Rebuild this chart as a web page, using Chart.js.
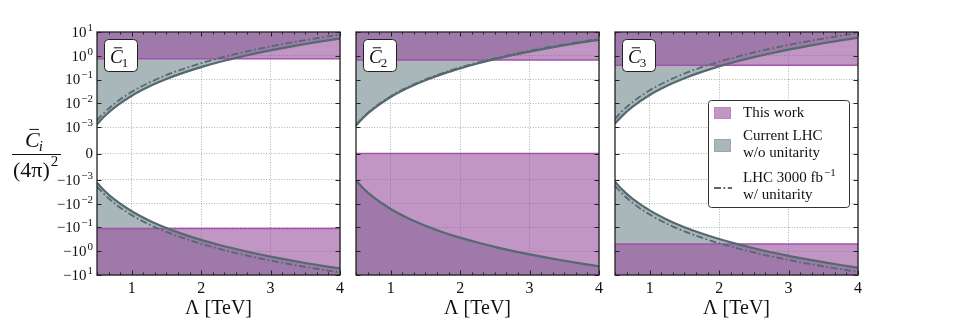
<!DOCTYPE html>
<html>
<head>
<meta charset="utf-8">
<script src="https://cdn.jsdelivr.net/npm/chart.js@4.4.0/dist/chart.umd.min.js"></script>
<style>
  html, body { margin: 0; padding: 0; background: #fff; }
  #wrap { position: relative; width: 955px; height: 324px; overflow: hidden; }
  .panel { position: absolute; top: 0; height: 324px; }
</style>
</head>
<body>
<div id="wrap">
  <div class="panel" style="left:0;width:350px"><canvas id="c1" width="350" height="324"></canvas></div>
  <div class="panel" style="left:346px;width:263px"><canvas id="c2" width="263" height="324"></canvas></div>
  <div class="panel" style="left:605px;width:263px"><canvas id="c3" width="263" height="324"></canvas></div>
</div>
<script>
// Lambda [TeV] sample points
const lambda = [0.5, 0.6, 0.75, 1, 1.25, 1.5, 1.75, 2, 2.25, 2.5, 2.75, 3, 3.25, 3.5, 3.75, 4];

const xTicks = [1, 2, 3, 4];
const yTicks = [10, 1, 0.1, 0.01, 0.001, 0, -0.001, -0.01, -0.1, -1, -10];
// tick label = base with exponent as superscript
const yTickBase = ['10', '10', '10', '10', '10', '0', '−10', '−10', '−10', '−10', '−10'];
const yTickExp  = ['1', '0', '−1', '−2', '−3', '', '−3', '−2', '−1', '0', '1'];

// Current LHC w/o unitarity (solid) and LHC 3000 fb-1 w/ unitarity (dash-dot)
const c1UpperSolid = [0.0013, 0.0027, 0.0066, 0.0208, 0.0508, 0.105, 0.195, 0.333, 0.533, 0.81, 1.19, 1.68, 2.32, 3.12, 4.11, 5.3];
const c1UpperDash  = [0.0019, 0.0039, 0.0096, 0.0304, 0.0742, 0.154, 0.285, 0.486, 0.779, 1.19, 1.74, 2.46, 3.39, 4.56, 6.01, 7.8];
const c1LowerSolid = [-0.0013, -0.0027, -0.0066, -0.0208, -0.0508, -0.105, -0.195, -0.333, -0.533, -0.81, -1.19, -1.68, -2.32, -3.12, -4.11, -5.3];
const c1LowerDash  = [-0.0019, -0.0039, -0.0096, -0.0304, -0.0742, -0.154, -0.285, -0.486, -0.779, -1.19, -1.74, -2.46, -3.39, -4.56, -6.01, -7.8];

const c2UpperSolid = [0.00115, 0.0024, 0.0058, 0.0184, 0.0449, 0.0932, 0.173, 0.294, 0.472, 0.719, 1.05, 1.49, 2.05, 2.76, 3.64, 4.71];
const c2UpperDash  = [0.00125, 0.0026, 0.0063, 0.02, 0.0488, 0.101, 0.188, 0.32, 0.513, 0.781, 1.14, 1.62, 2.23, 3.0, 3.96, 5.12];
const c2LowerSolid = [-0.00105, -0.0022, -0.0053, -0.0168, -0.041, -0.085, -0.158, -0.269, -0.431, -0.656, -0.961, -1.36, -1.87, -2.52, -3.32, -4.3];

const c3UpperSolid = [0.0014, 0.0029, 0.0071, 0.0224, 0.0547, 0.113, 0.21, 0.358, 0.574, 0.875, 1.28, 1.81, 2.5, 3.36, 4.43, 5.73];
const c3UpperDash  = [0.0022, 0.0046, 0.0111, 0.0352, 0.0859, 0.178, 0.33, 0.563, 0.902, 1.38, 2.01, 2.85, 3.93, 5.28, 6.96, 9.01];
const c3LowerSolid = [-0.0012, -0.0025, -0.0061, -0.0192, -0.0469, -0.0972, -0.18, -0.307, -0.492, -0.75, -1.1, -1.56, -2.14, -2.88, -3.8, -4.92];
const c3LowerDash  = [-0.0018, -0.0037, -0.0091, -0.0288, -0.0703, -0.146, -0.27, -0.461, -0.738, -1.13, -1.65, -2.33, -3.21, -4.32, -5.7, -7.37];

// "This work" bounds per panel (C1, C2, C3)
const thisWorkUpper = [0.75, 0.66, 0.40];
const thisWorkLower = [-0.11, 0, -0.50];

const panelSubs = ['1', '2', '3'];
const legendLabels = [['This work'], ['Current LHC', 'w/o unitarity'], ['LHC 3000 fb', 'w/ unitarity']];

const SERIF = '"Liberation Serif", "DejaVu Serif", serif';
const INK = '#222';
const GRAY_FILL = '#a9b7bb';
const PURPLE_FILL = 'rgba(152, 80, 157, 0.6)';
const PURPLE_LINE = '#a552aa';
const CURVE = '#55696f';
const GRID = 'rgba(125, 145, 150, 0.85)';
const DASHDOT = [7, 2.5, 1.8, 2.5];

// matplotlib-like symlog, linthresh 1e-3, linscale 1
const LINTHRESH = 1e-3;
const LINSCALE = 1 / (1 - 1 / 10);
function symlog(v) {
  const a = Math.abs(v);
  if (a <= LINTHRESH) return v / LINTHRESH * LINSCALE;
  return Math.sign(v) * (LINSCALE + Math.log10(a / LINTHRESH));
}
function symexp(t) {
  const a = Math.abs(t);
  if (a <= LINSCALE) return t / LINSCALE * LINTHRESH;
  return Math.sign(t) * LINTHRESH * Math.pow(10, a - LINSCALE);
}

class SymlogScale extends Chart.Scale {
  static id = 'symlog';
  static defaults = {};
  determineDataLimits() {
    this.min = this.options.min;
    this.max = this.options.max;
  }
  buildTicks() {
    return yTicks.map(v => ({ value: v }));
  }
  getLabelForValue(v) {
    return String(v);
  }
  configure() {
    super.configure();
    this._t0 = symlog(this.min);
    this._tr = symlog(this.max) - this._t0;
  }
  getPixelForValue(v) {
    return this.getPixelForDecimal((symlog(v) - this._t0) / this._tr);
  }
  getValueForPixel(p) {
    return symexp(this._t0 + this.getDecimalForPixel(p) * this._tr);
  }
}
Chart.register(SymlogScale);

// base text right-aligned at x, with a raised exponent
function drawPow(ctx, xRight, yMid, base, exp, size, expSize) {
  ctx.textBaseline = 'middle';
  ctx.textAlign = 'left';
  ctx.font = expSize + 'px ' + SERIF;
  const ew = exp ? ctx.measureText(exp).width + 1 : 0;
  ctx.font = size + 'px ' + SERIF;
  const bw = ctx.measureText(base).width;
  ctx.fillText(base, xRight - ew - bw, yMid + 1);
  if (exp) {
    ctx.font = expSize + 'px ' + SERIF;
    ctx.fillText(exp, xRight - ew + 1, yMid - 4);
  }
}

function drawCbar(ctx, x, base, size, sub, subSize, subDrop) {
  ctx.font = 'italic ' + size + 'px ' + SERIF;
  ctx.textAlign = 'left';
  ctx.textBaseline = 'alphabetic';
  ctx.fillText('C', x, base);
  const w = ctx.measureText('C').width;
  // macron over the C
  ctx.lineWidth = 1;
  ctx.beginPath();
  ctx.moveTo(x + w * 0.3, base - size * 0.8);
  ctx.lineTo(x + w * 0.95, base - size * 0.8);
  ctx.stroke();
  ctx.font = (sub === 'i' ? 'italic ' : '') + subSize + 'px ' + SERIF;
  ctx.fillText(sub, x + w - 1, base + subDrop);
}

const decoPlugin = {
  id: 'panelDeco',
  afterDraw(chart, args, opts) {
    const { ctx, chartArea: a, scales: { x, y } } = chart;
    ctx.save();
    ctx.strokeStyle = INK;
    ctx.fillStyle = '#111';

    // inward ticks
    ctx.lineWidth = 1;
    ctx.beginPath();
    for (let k = 0; k <= 21; k++) {
      const v = 0.5 + k / 6;
      const px = Math.round(x.getPixelForValue(v)) + 0.5;
      const len = Math.abs(v - Math.round(v)) < 1e-6 ? 4.5 : 2.5;
      ctx.moveTo(px, a.bottom); ctx.lineTo(px, a.bottom - len);
      ctx.moveTo(px, a.top); ctx.lineTo(px, a.top + len);
    }
    yTicks.forEach(v => {
      const py = Math.round(y.getPixelForValue(v)) + 0.5;
      ctx.moveTo(a.left, py); ctx.lineTo(a.left + 4.5, py);
      ctx.moveTo(a.right, py); ctx.lineTo(a.right - 4.5, py);
    });
    ctx.stroke();

    // frame
    ctx.lineWidth = 1.3;
    ctx.strokeRect(a.left, a.top, a.right - a.left, a.bottom - a.top);

    // panel tag
    ctx.lineWidth = 1;
    ctx.fillStyle = '#fff';
    ctx.beginPath();
    ctx.roundRect(a.left + 7.5, a.top + 7.5, 33, 32, 4);
    ctx.fill();
    ctx.stroke();
    ctx.fillStyle = '#111';
    ctx.strokeStyle = '#111';
    drawCbar(ctx, a.left + 13, a.top + 31, 19, panelSubs[opts.index], 13, 4);

    if (opts.index === 0) {
      // y tick labels with superscripts
      yTicks.forEach((v, k) => {
        drawPow(ctx, a.left - 4, y.getPixelForValue(v), yTickBase[k], yTickExp[k], 15, 11);
      });
      // y label fraction
      drawCbar(ctx, 25, 147, 22, 'i', 15, 4);
      ctx.lineWidth = 1.2;
      ctx.beginPath();
      ctx.moveTo(12, 154.5); ctx.lineTo(61, 154.5);
      ctx.stroke();
      ctx.font = '22px ' + SERIF;
      ctx.textAlign = 'left';
      ctx.textBaseline = 'alphabetic';
      ctx.fillText('(4π)', 13, 177);
      const w = ctx.measureText('(4π)').width;
      ctx.font = '15px ' + SERIF;
      ctx.fillText('2', 13 + w + 1, 166);
    }

    // legend on the third panel
    if (opts.index === 2) {
      const lx = a.left + 93, ly = a.top + 68;
      ctx.fillStyle = 'rgba(255,255,255,0.95)';
      ctx.strokeStyle = '#333';
      ctx.lineWidth = 1;
      ctx.beginPath();
      ctx.roundRect(lx + 0.5, ly + 0.5, 141, 107, 3);
      ctx.fill();
      ctx.stroke();
      // swatches
      ctx.fillStyle = PURPLE_FILL;
      ctx.fillRect(lx + 6, ly + 7, 17, 12);
      ctx.strokeStyle = '#b987bb';
      ctx.strokeRect(lx + 6.5, ly + 7.5, 16, 11);
      ctx.fillStyle = GRAY_FILL;
      ctx.fillRect(lx + 6, ly + 39, 17, 13);
      ctx.strokeStyle = '#98a7ab';
      ctx.strokeRect(lx + 6.5, ly + 39.5, 16, 12);
      ctx.strokeStyle = CURVE;
      ctx.lineWidth = 2;
      ctx.setLineDash(DASHDOT);
      ctx.beginPath();
      ctx.moveTo(lx + 6, ly + 88); ctx.lineTo(lx + 24, ly + 88);
      ctx.stroke();
      ctx.setLineDash([]);
      // texts
      ctx.fillStyle = '#111';
      ctx.font = '15px ' + SERIF;
      ctx.textAlign = 'left';
      ctx.textBaseline = 'middle';
      const rows = [[13], [36, 53], [78, 95]];
      legendLabels.forEach((lines, i) => {
        lines.forEach((t, j) => ctx.fillText(t, lx + 35, ly + rows[i][j]));
      });
      // superscript of fb^-1
      const fw = ctx.measureText(legendLabels[2][0]).width;
      ctx.font = '11px ' + SERIF;
      ctx.fillText('−1', lx + 35 + fw + 1, ly + 73);
    }
    ctx.restore();
  }
};

const panels = [
  { id: 'c1', up: c1UpperSolid, upDash: c1UpperDash, low: c1LowerSolid, lowDash: c1LowerDash, showY: true },
  { id: 'c2', up: c2UpperSolid, upDash: c2UpperDash, low: c2LowerSolid, lowDash: null, showY: false },
  { id: 'c3', up: c3UpperSolid, upDash: c3UpperDash, low: c3LowerSolid, lowDash: c3LowerDash, showY: false }
];

panels.forEach((p, i) => {
  const pts = arr => lambda.map((x, k) => ({ x: x, y: arr[k] }));
  const flat = v => [{ x: 0.5, y: v }, { x: 4, y: v }];
  const area = (data, fill, color) => ({
    data: data, fill: fill, backgroundColor: color, borderColor: 'transparent', borderWidth: 0, order: 5
  });
  const band = (v, fill) => ({
    data: flat(v), fill: fill, backgroundColor: PURPLE_FILL, borderColor: PURPLE_LINE, borderWidth: 1.6, order: 4
  });
  const curve = (data, dashed) => ({
    data: data, fill: false, borderColor: CURVE, borderWidth: dashed ? 1.8 : 2.2,
    borderDash: dashed ? DASHDOT : [], order: dashed ? 2 : 1
  });

  const datasets = [
    area(pts(p.up), 'end', GRAY_FILL),
    area(pts(p.low), 'start', GRAY_FILL),
    band(thisWorkUpper[i], 'end'),
    band(thisWorkLower[i], 'start'),
    curve(pts(p.upDash), true)
  ];
  if (p.lowDash) datasets.push(curve(pts(p.lowDash), true));
  datasets.push(curve(pts(p.up), false), curve(pts(p.low), false));

  new Chart(document.getElementById(p.id), {
    type: 'line',
    data: { datasets: datasets },
    options: {
      responsive: false,
      animation: false,
      devicePixelRatio: 1,
      layout: { padding: { top: 32, right: 10, left: 0, bottom: 0 } },
      elements: { point: { radius: 0 }, line: { cubicInterpolationMode: 'monotone' } },
      plugins: { legend: { display: false }, tooltip: { enabled: false }, panelDeco: { index: i } },
      scales: {
        x: {
          type: 'linear', min: 0.5, max: 4, z: 1,
          afterBuildTicks: s => { s.ticks = xTicks.map(v => ({ value: v })); },
          afterFit: s => { s.height = 49; },
          grid: { color: GRID, lineWidth: 0.8, drawTicks: false },
          border: { display: false, dash: [1, 1.6] },
          ticks: {
            font: { family: SERIF, size: 16 }, color: '#111', padding: 4,
            maxRotation: 0, autoSkip: false, callback: v => String(v)
          },
          title: {
            display: true, text: 'Λ [TeV]', color: '#111',
            font: { family: SERIF, size: 20 }, padding: { top: 0, bottom: 3 }
          }
        },
        y: {
          type: 'symlog', min: -10, max: 10, z: 1,
          afterFit: s => { s.width = p.showY ? 97 : 10; },
          grid: { color: GRID, lineWidth: 0.8, drawTicks: false },
          border: { display: false, dash: [1, 1.6] },
          ticks: { display: false }
        }
      }
    },
    plugins: [decoPlugin]
  });
});
</script>
</body>
</html>
